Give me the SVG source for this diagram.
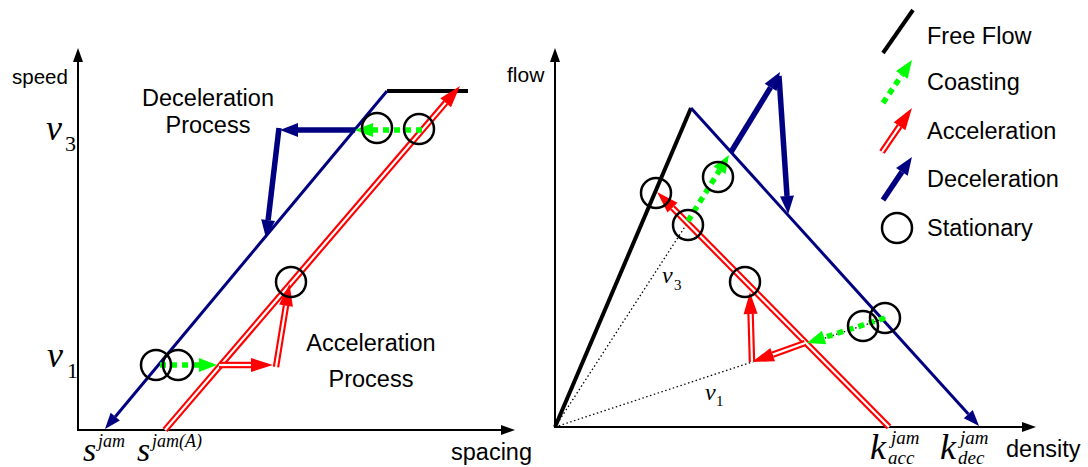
<svg xmlns="http://www.w3.org/2000/svg" width="1088" height="467" viewBox="0 0 1088 467">
<style>
.lbl{font-family:"Liberation Sans",Arial,sans-serif;font-size:23.5px;fill:#000}
.m{font-family:"Liberation Serif","Times New Roman",serif;font-style:italic;fill:#000}
.n{font-family:"Liberation Serif","Times New Roman",serif;fill:#000}
.ax{stroke:#000;stroke-width:2;fill:none}
.ff{stroke:#000;stroke-width:4;fill:none}
.bl{stroke:#000080;stroke-width:3;fill:none}
.bk{stroke:#000080;stroke-width:5.5;fill:none}
.gr{stroke:#00ff00;stroke-width:5.5;stroke-dasharray:6 5;fill:none}
.ro{stroke:#ff0000;stroke-width:6.5;fill:none}
.ri{stroke:#ffffff;stroke-width:2.2;fill:none}
.dt{stroke:#000;stroke-width:1.3;stroke-dasharray:1.5 2.5;fill:none}
.st{stroke:#000;stroke-width:2.5;fill:none}
</style>
<defs>
<marker id="ha" markerUnits="userSpaceOnUse" orient="auto" refX="0" refY="0" markerWidth="20" markerHeight="20" style="overflow:visible"><path d="M0,-5 L14,0 L0,5 z" fill="#000"/></marker>
<marker id="hr" markerUnits="userSpaceOnUse" orient="auto" refX="0" refY="0" markerWidth="30" markerHeight="30" style="overflow:visible"><path d="M0,-7 L22,0 L0,7 z" fill="#ff0000"/></marker>
<marker id="hg" markerUnits="userSpaceOnUse" orient="auto" refX="0" refY="0" markerWidth="30" markerHeight="30" style="overflow:visible"><path d="M0,-7 L18,0 L0,7 z" fill="#00ff00"/></marker>
<marker id="hb" markerUnits="userSpaceOnUse" orient="auto" refX="0" refY="0" markerWidth="30" markerHeight="30" style="overflow:visible"><path d="M0,-6 L16,0 L0,6 z" fill="#000080"/></marker>
<marker id="hk" markerUnits="userSpaceOnUse" orient="auto" refX="0" refY="0" markerWidth="30" markerHeight="30" style="overflow:visible"><path d="M0,-7 L18,0 L0,7 z" fill="#000080"/></marker>
</defs>

<g id="left-axes">
<path class="ax" d="M78,431 L78,62" marker-end="url(#ha)"/>
<path class="ax" d="M77,430 L501,430" marker-end="url(#ha)"/>
<text class="lbl" x="12" y="84" style="font-size:20.5px">speed</text>
<text class="lbl" x="451" y="460">spacing</text>
<text class="m" x="46" y="140" font-size="36">v</text><text class="n" x="65" y="151" font-size="22">3</text>
<text class="m" x="47" y="367" font-size="36">v</text><text class="n" x="67" y="378" font-size="22">1</text>
<text class="m" x="83" y="461" font-size="34">s</text><text class="m" x="98" y="447" font-size="18">jam</text>
<text class="m" x="137" y="461" font-size="34">s</text><text class="m" x="152" y="447" font-size="18">jam(A)</text>
</g>

<g id="right-axes">
<path class="ax" d="M555,428 L555,62" marker-end="url(#ha)"/>
<path class="ax" d="M554,427 L1022,427" marker-end="url(#ha)"/>
<text class="lbl" x="507" y="82" style="font-size:21px">flow</text>
<text class="lbl" x="1006" y="457">density</text>
<text class="m" x="662" y="283" font-size="24">v</text><text class="n" x="674" y="290" font-size="15">3</text>
<text class="m" x="705" y="400" font-size="24">v</text><text class="n" x="716" y="406" font-size="15">1</text>
<text class="m" x="870" y="459" font-size="36">k</text><text class="m" x="891" y="444" font-size="19">jam</text><text class="m" x="888" y="464" font-size="19">acc</text>
<text class="m" x="940" y="459" font-size="36">k</text><text class="m" x="960" y="444" font-size="19">jam</text><text class="m" x="958" y="464" font-size="19">dec</text>
</g>

<g id="left-labels">
<text class="lbl" x="208" y="106" text-anchor="middle">Deceleration</text>
<text class="lbl" x="208" y="133" text-anchor="middle">Process</text>
<text class="lbl" x="371" y="351" text-anchor="middle">Acceleration</text>
<text class="lbl" x="371" y="387" text-anchor="middle">Process</text>
</g>

<g id="connectors">
<!-- left panel -->
<path class="ff" d="M387,91 L468,91"/>
<path class="bl" d="M387,91 L115.25,416.7" marker-end="url(#hb)"/>
<path class="ro" d="M165,430 L445.7,102.7"/>
<path class="ri" d="M165,430 L445.7,102.7" marker-end="url(#hr)"/>
<path class="bk" d="M355,130 L298,130" marker-end="url(#hk)"/>
<path class="bk" d="M279,128 L268.1,220.1" marker-end="url(#hk)"/>
<path class="gr" d="M422,130 L373,130" marker-end="url(#hg)"/>
<path class="gr" d="M160,365 L199,365" marker-end="url(#hg)"/>
<path class="ro" d="M219,365 L251,365"/>
<path class="ri" d="M219,365 L251,365" marker-end="url(#hr)"/>
<path class="ro" d="M276,367 L286,305.6"/>
<path class="ri" d="M276,367 L286,305.6" marker-end="url(#hr)"/>
<!-- right panel -->
<path class="dt" d="M555,427 L688,222"/>
<path class="dt" d="M555,427 L886,318"/>
<path class="ff" d="M555,427 L691,108"/>
<path class="bl" d="M691,108 L968.3,414.1" marker-end="url(#hb)"/>
<path class="ro" d="M889,427 L672.5,207.7"/>
<path class="ri" d="M889,427 L672.5,207.7" marker-end="url(#hr)"/>
<path class="bk" d="M731,152 L770.6,87.4" marker-end="url(#hk)"/>
<path class="bk" d="M779,76 L787,196" marker-end="url(#hk)"/>
<path class="gr" d="M688,221 L719.5,170.3" marker-end="url(#hg)"/>
<path class="gr" d="M885,318 L824.1,337.5" marker-end="url(#hg)"/>
<path class="ro" d="M805,343 L772.7,354.6"/>
<path class="ri" d="M805,343 L772.7,354.6" marker-end="url(#hr)"/>
<path class="ro" d="M752,362 L750.6,314"/>
<path class="ri" d="M752,362 L750.6,314" marker-end="url(#hr)"/>
</g>

<g id="stationary-points">
<circle class="st" cx="156" cy="365" r="15"/>
<circle class="st" cx="178" cy="365" r="15"/>
<circle class="st" cx="377" cy="128" r="15"/>
<circle class="st" cx="419" cy="129" r="15"/>
<circle class="st" cx="291" cy="282" r="15"/>
<circle class="st" cx="656" cy="193" r="15"/>
<circle class="st" cx="718" cy="177" r="15"/>
<circle class="st" cx="688" cy="225" r="15"/>
<circle class="st" cx="745" cy="282" r="15"/>
<circle class="st" cx="863" cy="326" r="15"/>
<circle class="st" cx="885" cy="318" r="15"/>
</g>

<g id="legend">
<path class="ff" d="M883,53 L913,10"/>
<text class="lbl" x="927" y="44">Free Flow</text>
<path class="gr" d="M883,103 L901.9,74.9" marker-end="url(#hg)"/>
<text class="lbl" x="927" y="90">Coasting</text>
<path class="ro" d="M882,152 L899.6,126.2"/>
<path class="ri" d="M882,152 L899.6,126.2" marker-end="url(#hr)"/>
<text class="lbl" x="927" y="139">Acceleration</text>
<path class="bk" d="M883,200 L901.9,171.9" marker-end="url(#hk)"/>
<text class="lbl" x="927" y="187">Deceleration</text>
<circle class="st" cx="897" cy="228" r="15"/>
<text class="lbl" x="927" y="236">Stationary</text>
</g>
</svg>
